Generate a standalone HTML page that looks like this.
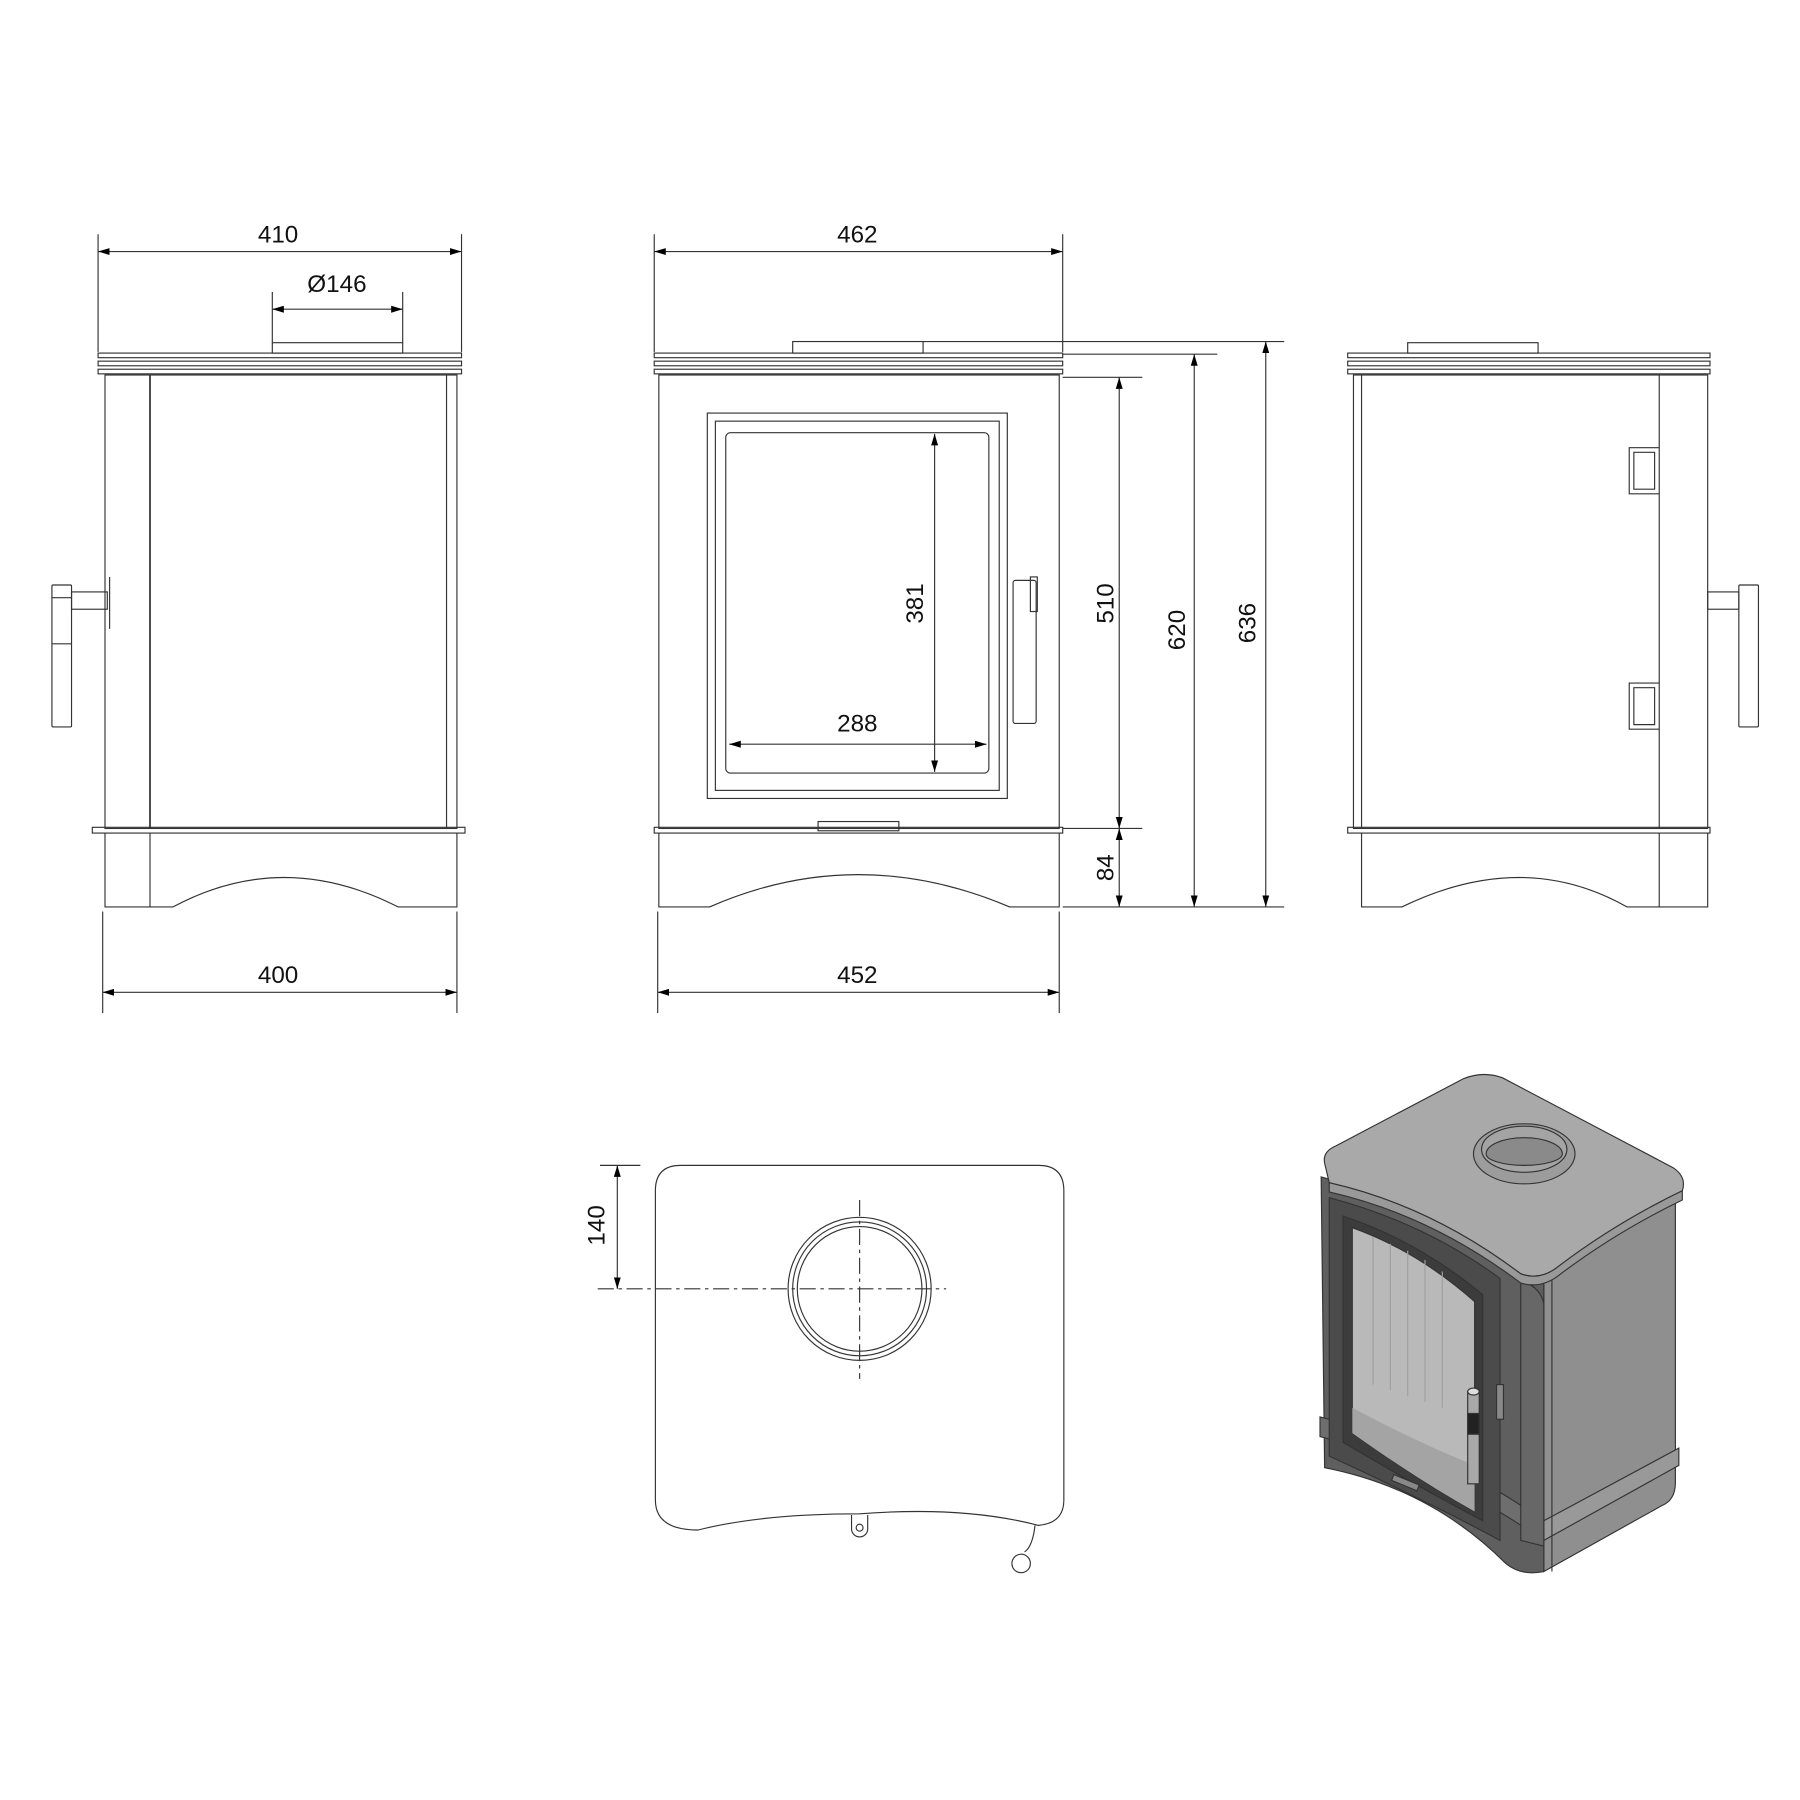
<!DOCTYPE html>
<html><head><meta charset="utf-8"><style>html,body{margin:0;padding:0;background:#fff}svg{display:block}</style></head>
<body>
<svg width="1800" height="1800" viewBox="0 0 1560 1560" xmlns="http://www.w3.org/2000/svg" font-family="Liberation Sans, sans-serif">
<defs>
<marker id="a" viewBox="0 0 10 10" refX="10" refY="5" markerWidth="10" markerHeight="10" orient="auto-start-reverse" markerUnits="userSpaceOnUse"><path d="M0,2 L10,5 L0,8 z" fill="#000"/></marker>
</defs>
<g fill="none" stroke="#333" stroke-width="1">
<!-- LEFT SIDE VIEW -->
<line x1="85" y1="203" x2="85" y2="305"/><line x1="400" y1="203" x2="400" y2="305"/>
<line x1="85" y1="218" x2="400" y2="218" marker-start="url(#a)" marker-end="url(#a)"/>
<line x1="236" y1="253" x2="236" y2="297"/><line x1="349" y1="253" x2="349" y2="297"/>
<line x1="236" y1="268" x2="349" y2="268" marker-start="url(#a)" marker-end="url(#a)"/>
<rect x="236" y="297" width="113" height="9"/>
<rect x="85" y="306" width="315" height="4"/><rect x="85" y="313" width="315" height="4"/><rect x="85" y="320" width="315" height="4"/>
<rect x="91" y="325" width="305" height="393"/>
<line x1="130" y1="325" x2="130" y2="718" stroke-width="1.5"/>
<line x1="387" y1="325" x2="387" y2="718"/>
<rect x="45" y="507" width="17" height="123" rx="1"/>
<line x1="45" y1="518" x2="62" y2="518"/><line x1="45" y1="558" x2="62" y2="558"/>
<rect x="62" y="513" width="31" height="15"/>
<line x1="95" y1="500" x2="95" y2="545"/>
<rect x="80" y="717" width="323" height="5"/>
<path d="M91,722 V786 H150 Q245,735 345,786 H396 V722"/>
<line x1="130" y1="722" x2="130" y2="786"/>
<line x1="89" y1="790" x2="89" y2="878"/><line x1="396" y1="790" x2="396" y2="878"/>
<line x1="89" y1="860" x2="396" y2="860" marker-start="url(#a)" marker-end="url(#a)"/>

<!-- FRONT VIEW -->
<line x1="567" y1="203" x2="567" y2="305"/><line x1="921" y1="203" x2="921" y2="305"/>
<line x1="567" y1="218" x2="921" y2="218" marker-start="url(#a)" marker-end="url(#a)"/>
<rect x="687" y="296" width="113" height="10"/>
<rect x="567" y="306" width="354" height="4"/><rect x="567" y="313" width="354" height="4"/><rect x="567" y="320" width="354" height="4"/>
<rect x="571" y="325" width="347" height="393"/>
<rect x="613" y="358" width="260" height="334"/>
<rect x="620" y="365" width="246" height="320"/>
<rect x="629" y="375" width="228" height="295" rx="4"/>
<rect x="878" y="503" width="20" height="124" rx="2"/>
<rect x="893" y="500" width="6" height="30"/>
<rect x="567" y="717" width="354" height="5"/>
<rect x="709" y="712" width="70" height="8"/>
<path d="M571,722 V786 H615 Q743,730 875,786 H918 V722"/>
<line x1="570" y1="790" x2="570" y2="878"/><line x1="918" y1="790" x2="918" y2="878"/>
<line x1="570" y1="860" x2="918" y2="860" marker-start="url(#a)" marker-end="url(#a)"/>
<line x1="810" y1="376" x2="810" y2="669" marker-start="url(#a)" marker-end="url(#a)"/>
<line x1="632" y1="645" x2="855" y2="645" marker-start="url(#a)" marker-end="url(#a)"/>
<line x1="921" y1="327" x2="990" y2="327"/>
<line x1="921" y1="718" x2="990" y2="718"/>
<line x1="921" y1="786" x2="1113" y2="786"/>
<line x1="921" y1="307" x2="1055" y2="307"/>
<line x1="800" y1="296" x2="1113" y2="296"/>
<line x1="970" y1="327" x2="970" y2="718" marker-start="url(#a)" marker-end="url(#a)"/>
<line x1="970" y1="718" x2="970" y2="786" marker-start="url(#a)" marker-end="url(#a)"/>
<line x1="1035" y1="307" x2="1035" y2="786" marker-start="url(#a)" marker-end="url(#a)"/>
<line x1="1097" y1="296" x2="1097" y2="786" marker-start="url(#a)" marker-end="url(#a)"/>

<!-- RIGHT SIDE VIEW -->
<rect x="1220" y="297" width="113" height="9"/>
<rect x="1168" y="306" width="314" height="4"/><rect x="1168" y="313" width="314" height="4"/><rect x="1168" y="320" width="314" height="4"/>
<rect x="1173" y="325" width="307" height="393"/>
<line x1="1438" y1="325" x2="1438" y2="718"/>
<line x1="1180" y1="325" x2="1180" y2="718"/>
<path d="M1438,388 H1412 V428 H1438 M1416,392 H1434 V424 H1416 Z"/>
<path d="M1438,592 H1412 V632 H1438 M1416,596 H1434 V628 H1416 Z"/>
<rect x="1480" y="513" width="27" height="15"/>
<rect x="1507" y="507" width="17" height="123" rx="1"/>
<rect x="1168" y="717" width="314" height="5"/>
<path d="M1180,722 V786 H1215 Q1320,735 1410,786 H1480 V722"/>
<line x1="1438" y1="722" x2="1438" y2="786"/>

<!-- TOP VIEW -->
<path d="M590,1010 H900 Q922,1010 922,1032 V1300 Q922,1320 900,1322 Q835,1305 745,1312 Q660,1312 605,1326 Q568,1326 568,1300 V1032 Q568,1010 590,1010 Z"/>
<circle cx="745" cy="1117" r="62"/><circle cx="745" cy="1117" r="58"/><circle cx="745" cy="1117" r="54"/>
<line x1="745" y1="1040" x2="745" y2="1195" stroke-dasharray="14,4,3,4"/>
<line x1="518" y1="1117" x2="820" y2="1117" stroke-dasharray="14,4,3,4"/>
<line x1="520" y1="1010" x2="555" y2="1010"/>
<line x1="535" y1="1010" x2="535" y2="1117" marker-start="url(#a)" marker-end="url(#a)"/>
<path d="M738,1313 V1325 A7,7 0 0 0 752,1325 V1313"/><circle cx="745" cy="1324" r="3"/>
<path d="M897,1322 Q895,1340 888,1345"/><circle cx="885" cy="1355" r="8"/>
</g>

<g font-size="21" fill="#111" text-anchor="middle">
<text x="241" y="210">410</text>
<text x="292" y="253">Ø146</text>
<text x="241" y="852">400</text>
<text x="743" y="210">462</text>
<text x="743" y="852">452</text>
<text x="743" y="634">288</text>
<text transform="translate(800,523) rotate(-90)">381</text>
<text transform="translate(965,523) rotate(-90)">510</text>
<text transform="translate(965,752) rotate(-90)">84</text>
<text transform="translate(1027,546) rotate(-90)">620</text>
<text transform="translate(1088,540) rotate(-90)">636</text>
<text transform="translate(524,1062) rotate(-90)">140</text>
</g>

<!-- ISOMETRIC -->
<g stroke="#333" stroke-width="1">
<!-- right face -->
<path d="M1338,1103 L1452,1037 L1452,1285 Q1452,1300 1440,1305 L1338,1362 Z" fill="#8f8f8f"/>
<path d="M1338,1318 L1455,1255 L1455,1270 L1338,1335 Z" fill="#999"/>
<line x1="1345" y1="1103" x2="1345" y2="1362"/>
<!-- front face -->
<path d="M1145,1020 Q1240,1045 1338,1103 L1338,1362 Q1318,1366 1305,1355 Q1240,1290 1148,1272 Z" fill="#5f5f5f"/>
<path d="M1144,1228 Q1240,1250 1338,1318 L1338,1335 Q1240,1268 1144,1245 Z" fill="#6e6e6e"/>
<path d="M1318,1110 Q1335,1115 1338,1130 L1338,1340 L1318,1335 Z" fill="#676767"/>
<!-- door -->
<path d="M1152,1038 Q1235,1060 1300,1108 L1300,1335 Q1235,1300 1152,1262 Z" fill="#4b4b4b"/>
<path d="M1164,1054 Q1228,1075 1285,1122 L1285,1318 Q1228,1288 1164,1250 Z" fill="#3c3c3c"/>
<path d="M1172,1064 Q1228,1084 1278,1128 L1278,1310 Q1228,1282 1172,1242 Z" fill="#b9b9b9"/>
<g stroke="#a0a0a0"><line x1="1190" y1="1072" x2="1190" y2="1200"/><line x1="1205" y1="1078" x2="1205" y2="1205"/><line x1="1220" y1="1084" x2="1220" y2="1210"/><line x1="1235" y1="1092" x2="1235" y2="1215"/><line x1="1250" y1="1102" x2="1250" y2="1220"/></g>
<path d="M1172,1220 Q1228,1250 1278,1270 L1278,1310 Q1228,1282 1172,1242 Z" fill="#a4a4a4" stroke="none"/>
<rect x="1272" y="1206" width="10" height="80" fill="#a8a8a8"/>
<rect x="1272" y="1225" width="10" height="18" fill="#222"/>
<ellipse cx="1277" cy="1206" rx="5" ry="3" fill="#ddd"/>
<rect x="1297" y="1200" width="6" height="30" fill="#888"/>
<path d="M1208,1278 L1230,1287 L1228,1292 L1206,1283 Z" fill="#888"/>
<!-- top face -->
<path d="M1148,1008 Q1146,998 1158,993 L1268,935 Q1285,928 1302,934 L1450,1012 Q1462,1020 1458,1032 Q1400,1060 1350,1098 Q1335,1110 1318,1104 Q1240,1045 1152,1025 Z" fill="#a9a9a9"/>
<path d="M1152,1025 Q1240,1045 1318,1104 Q1335,1110 1350,1098 Q1400,1060 1458,1032 L1458,1040 Q1400,1068 1350,1106 Q1335,1117 1318,1112 Q1240,1053 1152,1033 Z" fill="#999"/>
<ellipse cx="1321" cy="1000" rx="44" ry="26" fill="#9c9c9c"/>
<ellipse cx="1321" cy="996" rx="37" ry="20" fill="#a4a4a4"/>
<path d="M1288,1000 A33,14 0 0 1 1354,1000 A33,10 0 0 1 1288,1000 Z" fill="#8a8a8a"/>
</g>
</svg>
</body></html>
